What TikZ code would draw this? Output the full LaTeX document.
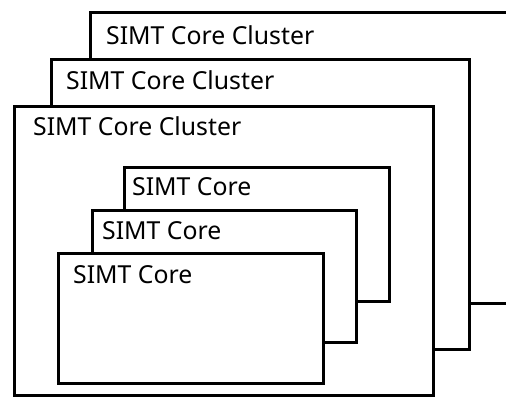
\documentclass[tikz,border=0pt]{standalone}
\usepackage{fontspec}
\setmainfont{Noto Sans}
\begin{document}
\begin{tikzpicture}[x=1pt,y=-1pt,
  box/.style={draw=black, fill=white, line width=3pt, anchor=north west,
    inner sep=0pt, outer sep=0pt},
  caption/.style={anchor=base west, inner sep=0pt, font=\fontsize{24.8}{28}\selectfont}]
\useasboundingbox (0,0) rectangle (506,399);
\clip (0,0) rectangle (506,399);
% three stacked core clusters, back to front
\node[box, minimum width=480pt, minimum height=291pt] (cl3) at (90,12) {};
\node[caption] (t3) at (106,44) {SIMT Core Cluster};
\node[box, minimum width=417.5pt, minimum height=290pt] (cl2) at (51.5,59) {};
\node[caption] (t2) at (66,89) {SIMT Core Cluster};
\node[box, minimum width=418.5pt, minimum height=289pt] (cl1) at (14.5,106) {};
\node[caption] (t1) at (33,135) {SIMT Core Cluster};
% three stacked SIMT cores inside the front cluster
\node[box, minimum width=265pt, minimum height=134pt] (c3) at (124,167) {};
\node[caption] (u3) at (132,195) {SIMT Core};
\node[box, minimum width=264pt, minimum height=132pt] (c2) at (92,210) {};
\node[caption] (u2) at (102,239) {SIMT Core};
\node[box, minimum width=264.5pt, minimum height=130pt] (c1) at (58.5,253.5) {};
\node[caption] (u1) at (73,283) {SIMT Core};
\end{tikzpicture}
\end{document}
